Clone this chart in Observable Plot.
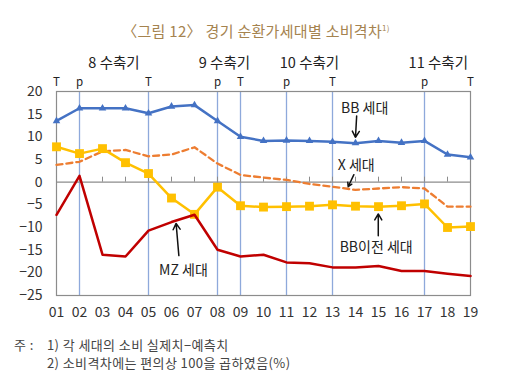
<!DOCTYPE html>
<html><head><meta charset="utf-8">
<script src="https://cdn.jsdelivr.net/npm/d3@7"></script>
<script src="https://cdn.jsdelivr.net/npm/@observablehq/plot@0.6"></script>
<style>
body{margin:0;background:#fff;}
#wrap{position:relative;width:512px;height:382px;font-family:"Noto Sans CJK KR",sans-serif;}
#chart{position:absolute;left:0;top:0;}
#title{position:absolute;left:0;width:512px;top:20px;text-align:center;font-size:15px;color:#A5834F;letter-spacing:0.3px;}
#title sup{font-size:8px;}
.note{position:absolute;font-size:13px;color:#444;white-space:pre;letter-spacing:0.4px;}
</style></head><body>
<div id="wrap">
<div id="chart"></div>
<div id="title">〈그림 12〉 경기 순환가세대별 소비격차<sup>1)</sup></div>
<div class="note" style="left:14px;top:335px">주 :</div>
<div class="note" style="left:47px;top:335px">1) 각 세대의 소비 실제치−예측치</div>
<div class="note" style="left:47px;top:353px">2) 소비격차에는 편의상 100을 곱하였음(%)</div>
</div>
<script>
const years = [1,2,3,4,5,6,7,8,9,10,11,12,13,14,15,16,17,18,19];
const yearLabels = ["01","02","03","04","05","06","07","08","09","10","11","12","13","14","15","16","17","18","19"];
const bb   = [13.5,16.3,16.3,16.3,15.2,16.7,17.0,13.5,10.0,9.1,9.2,9.1,8.9,8.6,9.1,8.7,9.1,6.1,5.5];
const xgen = [3.8,4.5,6.8,7.1,5.7,6.1,7.7,4.1,1.6,1.0,0.5,-0.4,-1.0,-1.7,-1.4,-1.1,-1.4,-5.4,-5.4];
const prebb= [7.8,6.3,7.4,4.3,1.9,-3.5,-7.1,-1.1,-5.2,-5.5,-5.4,-5.3,-5.0,-5.3,-5.4,-5.2,-4.8,-10.0,-9.8];
const mz   = [-7.2,1.4,-16.0,-16.4,-10.7,-8.8,-7.2,-14.9,-16.4,-16.0,-17.7,-17.9,-18.8,-18.8,-18.5,-19.6,-19.6,-20.2,-20.7];
const yTicks = [-25,-20,-15,-10,-5,0,5,10,15,20];
const turnYears = [1,2,5,8,9,11,13,17,19];
const turnLabels = ["T","p","T","p","T","p","T","p","T"];
const cycleLines = [2,5,8,9,11,13,17];
const cycleNames = ["8 수축기","9 수축기","10 수축기","11 수축기"];
const cycleAt = [3.5,8.3,12.0,17.6];
const annoNames = ["BB 세대","X 세대","BB이전 세대","MZ 세대"];
const annoX = [14.4,14.03,14.9,6.52];
const annoY = [16.2,3.6,-14.4,-19.5];
const arrowFromX = [14.05,13.93,14.99,6.32];
const arrowFromY = [14.6,1.65,-11.8,-16.2];
const arrowToX = [14.0,13.68,14.99,6.2];
const arrowToY = [9.9,-1.0,-7.0,-9.1];

const rows = (vals) => years.map((y,i)=>({year:y, value:vals[i]}));
const turns = turnYears.map((y,i)=>({year:y, label:turnLabels[i]}));
const cycles = cycleNames.map((n,i)=>({name:n, x:cycleAt[i]}));
const annos = annoNames.map((n,i)=>({name:n,x:annoX[i],y:annoY[i],x1:arrowFromX[i],y1:arrowFromY[i],x2:arrowToX[i],y2:arrowToY[i]}));

const chart = Plot.plot({
  width:512, height:382,
  marginLeft:56, marginRight:42, marginTop:91, marginBottom:87,
  style:{fontFamily:'"Noto Sans CJK KR",sans-serif', fontSize:"13px", color:"#333", background:"transparent"},
  x:{type:"linear", domain:[1,19]},
  y:{domain:[-25,20]},
  marks:[
    Plot.ruleX(cycleLines, {stroke:"#8EA9DB", strokeWidth:1.3}),
    Plot.frame({stroke:"#8c8c8c", strokeWidth:1.2}),
    Plot.ruleY([0], {stroke:"#8c8c8c", strokeWidth:1.2}),
    Plot.ruleX(years, {y1:0, y2:1.1, stroke:"#8c8c8c"}),
    Plot.line(rows(xgen), {x:"year", y:"value", stroke:"#ED7D31", strokeWidth:2.3, strokeDasharray:"6,4"}),
    Plot.line(rows(bb), {x:"year", y:"value", stroke:"#4472C4", strokeWidth:2.5}),
    Plot.dot(rows(bb), {x:"year", y:"value", symbol:"triangle", r:2.8, fill:"#4472C4"}),
    Plot.line(rows(prebb), {x:"year", y:"value", stroke:"#FFC000", strokeWidth:2.5}),
    Plot.dot(rows(prebb), {x:"year", y:"value", symbol:"square", r:5, fill:"#FFC000"}),
    Plot.line(rows(mz), {x:"year", y:"value", stroke:"#C00000", strokeWidth:2.5}),
    Plot.text(turns, {x:"year", text:"label", frameAnchor:"top", lineAnchor:"middle", dy:-9, fontSize:11.5, fill:"#222"}),
    Plot.text(cycles, {x:"x", text:"name", frameAnchor:"top", lineAnchor:"middle", dy:-28, fontSize:14.5, fill:"#222"}),
    Plot.arrow(annos, {x1:"x1", y1:"y1", x2:"x2", y2:"y2", stroke:"#111", strokeWidth:1.5, headLength:7}),
    Plot.text(annos, {x:"x", y:"y", text:"name", fontSize:14, fill:"#222"}),
    Plot.axisY({ticks:yTicks, tickSize:0, tickPadding:14, fontSize:14}),
    Plot.axisX({ticks:years, tickFormat:(d)=>yearLabels[d-1], tickSize:0, tickPadding:12, fontSize:14})
  ]
});
document.getElementById("chart").appendChild(chart);
</script>
</body></html>
